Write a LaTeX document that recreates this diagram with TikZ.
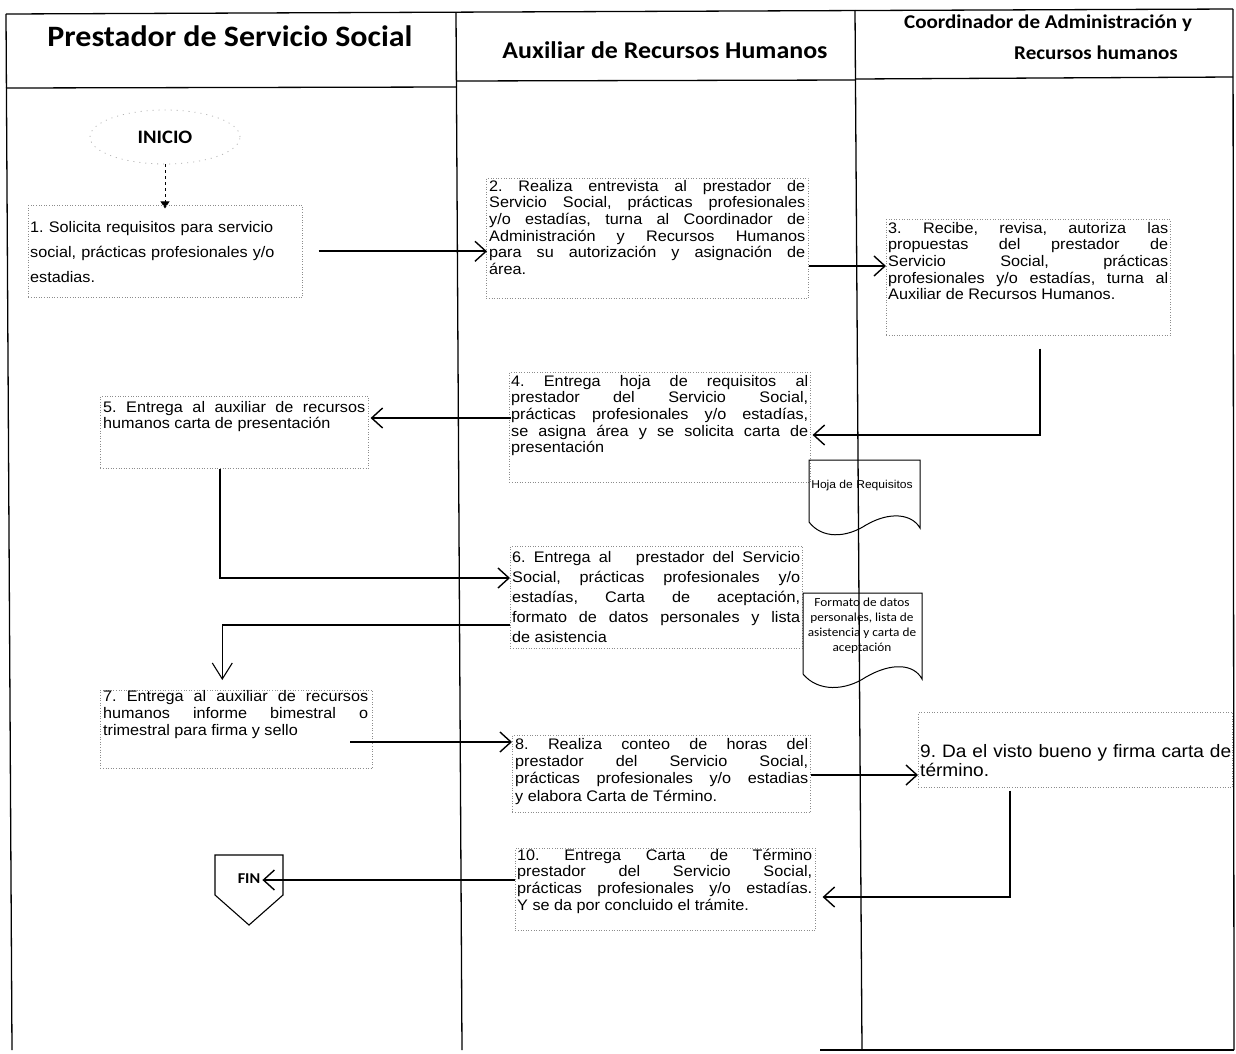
\documentclass[tikz,border=0pt]{standalone}
\usepackage{fontspec}
\setmainfont{Liberation Sans}
\newfontfamily\bodyf[FakeStretch=1.06]{Liberation Sans}
\newfontfamily\calibB[FakeStretch=1.08]{Carlito}
\usetikzlibrary{arrows.meta,shapes.geometric}
\begin{document}
\frenchspacing
\begin{tikzpicture}[x=1pt,y=-1pt,
  lane/.style={line width=1.3pt},
  dotbox/.style={draw=black!45, dotted, line width=0.6pt, inner sep=0pt, anchor=north west},
  txt/.style={anchor=north west, inner sep=0pt, align=justify, font=\bodyf\fontsize{15.3}{16.7}\selectfont},
  flow/.style={line width=2pt, -{Straight Barb[length=11pt,width=20pt,line width=1.4pt]}},
  downflow/.style={line width=1.6pt, -{Straight Barb[length=16pt,width=20pt,line width=1.1pt]}},
  hdr/.style={font=\calibB\bfseries},
  doc/.style={draw, line width=1pt}]
\useasboundingbox (0,0) rectangle (1236,1053);
\fill[white] (0,0) rectangle (1236,1053);

% lanes
\draw[lane] (6,14) -- (1233,9);
\draw[lane] (6,88) -- (456,87);
\draw[lane] (456,81) -- (855,80);
\draw[lane] (855,79) -- (1233,77);
\draw[lane] (6,14) -- (12,1050);
\draw[lane] (456,12) -- (462,1050);
\draw[lane] (855,10) -- (862,1050);
\draw[lane] (1233,9) -- (1234,1050);
\draw[lane] (820,1050) -- (1234,1050);

% headers
\node[hdr, font=\calibB\bfseries\fontsize{29.6}{34}\selectfont] (h1) at (230,36) {Prestador de Servicio Social};
\node[hdr, font=\calibB\bfseries\fontsize{24}{28}\selectfont] (h2) at (665,50) {Auxiliar de Recursos Humanos};
\node[hdr, font=\calibB\bfseries\fontsize{19.5}{22}\selectfont] (h3a) at (1048,23) {Coordinador de Administración y};
\node[hdr, font=\calibB\bfseries\fontsize{19.5}{22}\selectfont] (h3b) at (1096,53) {Recursos humanos};

% inicio
\node[draw=black!30, dash pattern=on 1pt off 5pt, line width=0.8pt, ellipse, minimum width=150pt, minimum height=54pt, inner sep=0pt, font=\calibB\bfseries\fontsize{19}{22}\selectfont] (ini) at (165,137) {INICIO};
\draw[line width=1pt, dashed, -{Triangle[length=7pt,width=9pt]}] (ini.south) -- ++(0,44);

% boxes
\node[dotbox, minimum width=274pt, minimum height=92pt] (b1) at (28,205) {};
\node[dotbox, minimum width=322pt, minimum height=120pt] (b2) at (486,178) {};
\node[dotbox, minimum width=284pt, minimum height=116pt] (b3) at (886,219) {};
\node[dotbox, minimum width=301pt, minimum height=110pt] (b4) at (509,372) {};
\node[dotbox, minimum width=268pt, minimum height=72pt] (b5) at (100,396) {};
\node[dotbox, minimum width=292pt, minimum height=102pt] (b6) at (510,546) {};
\node[dotbox, minimum width=272pt, minimum height=78pt] (b7) at (100,690) {};
\node[dotbox, minimum width=298pt, minimum height=77pt] (b8) at (512,735) {};
\node[dotbox, minimum width=314pt, minimum height=75pt] (b9) at (918,712) {};
\node[dotbox, minimum width=300pt, minimum height=82pt] (b10) at (515,848) {};

% texts
\node[txt, align=left, text width=272pt, font=\bodyf\fontsize{15.3}{25.3}\selectfont] (t1) at (30,220.8)
 {1. Solicita requisitos para servicio\\social, prácticas profesionales y/o\\estadias.};
\node[txt, text width=316pt] (t2) at (489,179.8)
 {2. Realiza entrevista al prestador de\linebreak Servicio Social, prácticas profesionales\linebreak y/o estadías, turna al Coordinador de\linebreak Administración y Recursos Humanos\linebreak para su autorización y asignación de\linebreak área.};
\node[txt, text width=280pt] (t3) at (888,221.8)
 {3. Recibe, revisa, autoriza las\linebreak propuestas del prestador de\linebreak Servicio Social, prácticas\linebreak profesionales y/o estadías, turna al\linebreak Auxiliar de Recursos Humanos.};
\node[txt, text width=297pt] (t4) at (511,374.8)
 {4. Entrega hoja de requisitos al\linebreak prestador del Servicio Social,\linebreak prácticas profesionales y/o estadías,\linebreak se asigna área y se solicita carta de\linebreak presentación};
\node[txt, text width=262pt] (t5) at (103,400.8)
 {5. Entrega al auxiliar de recursos\linebreak humanos carta de presentación};
\node[txt, text width=288pt, font=\bodyf\fontsize{15.3}{20}\selectfont] (t6) at (512,550.8)
 {6. Entrega al \ \ prestador del Servicio\linebreak Social, prácticas profesionales y/o\linebreak estadías, Carta de aceptación,\linebreak formato de datos personales y lista\linebreak de asistencia};
\node[txt, text width=265pt, font=\bodyf\fontsize{15.3}{17}\selectfont] (t7) at (103,689.8)
 {7. Entrega al auxiliar de recursos\linebreak humanos informe bimestral o\linebreak trimestral para firma y sello};
\node[txt, text width=293pt, font=\bodyf\fontsize{15.3}{17.3}\selectfont] (t8) at (515,737.8)
 {8. Realiza conteo de horas del\linebreak prestador del Servicio Social,\linebreak prácticas profesionales y/o estadias\linebreak y elabora Carta de Término.};
\node[txt, align=left, text width=312pt, font=\bodyf\fontsize{18}{19}\selectfont] (t9) at (920,744)
 {9. Da el visto bueno y firma carta de\\término.};
\node[txt, text width=295pt] (t10) at (517,848.8)
 {10. Entrega Carta de Término\linebreak prestador del Servicio Social,\linebreak prácticas profesionales y/o estadías.\linebreak Y se da por concluido el trámite.};

% documents
\node[font=\bodyf\fontsize{11.4}{12}\selectfont, inner sep=0pt] (d1) at (862,486) {Hoja de Requisitos};
\draw[doc] (809,460) -- (920,460) -- (920,528)
  .. controls (912,514) and (890,511) .. (866,525)
  .. controls (846,538) and (822,539) .. (809,522) -- cycle;
\node[font=\calibB\fontsize{12.3}{15}\selectfont, align=center, inner sep=0pt] (d2) at (862,626)
  {Formato de datos\\personales, lista de\\asistencia y carta de\\aceptación};
\draw[doc] (803,593) -- (922,593) -- (922,679)
  .. controls (914,664) and (892,662) .. (866,677)
  .. controls (845,691) and (818,692) .. (803,674) -- cycle;

% FIN
\node[font=\calibB\bfseries\fontsize{15}{18}\selectfont, inner sep=0pt] (fin) at (249,879) {FIN};
\draw[line width=1.1pt] ([shift={(-34,-24)}]fin.center) -- ([shift={(34,-24)}]fin.center)
  -- ([shift={(34,16)}]fin.center) -- ([shift={(0,46)}]fin.center)
  -- ([shift={(-34,16)}]fin.center) -- cycle;

% connectors
\coordinate (c2y) at (0,266);
\coordinate (c3y) at (0,435);
\coordinate (c4y) at (0,418);
\coordinate (c5y) at (0,578);
\coordinate (c6y) at (0,625);
\coordinate (c7s) at (350,742);
\coordinate (c8y) at (0,775);
\coordinate (c9y) at (0,897);
\coordinate (c10y) at (0,880);

\draw[flow] ([xshift=16pt]b1.east) -- ([xshift=-2pt]b1.east -| t2.west);
\draw[flow] (b2.east |- c2y) -- ([xshift=-2pt]t3.west |- c2y);
\draw[flow] ([shift={(12,13)}]b3.south) |- ([xshift=2pt]b4.east |- c3y);
\draw[flow] (t4.west |- c4y) -- ([xshift=2pt]b5.east |- c4y);
\draw[flow] ([xshift=-14pt]b5.south) |- ([xshift=-2pt]t6.west |- c5y);
\draw[downflow] (b6.west |- c6y) -| ([shift={(-14,-10)}]b7.north);
\draw[flow] (c7s) -- ([xshift=-3pt]t8.west |- c7s);
\draw[flow] (b8.east |- c8y) -- ([xshift=-2pt]t9.west |- c8y);
\draw[flow] ([shift={(-65,3)}]b9.south) |- ([xshift=7pt]b10.east |- c9y);
\draw[flow] (b10.west |- c10y) -- ([xshift=2pt]fin.east |- c10y);
\end{tikzpicture}
\end{document}
